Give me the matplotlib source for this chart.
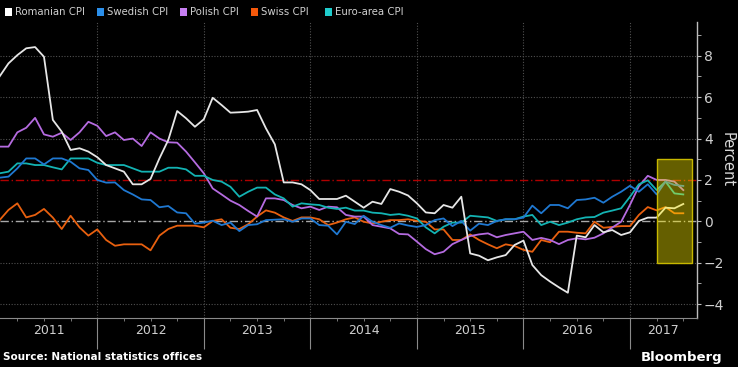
import numpy as np
import matplotlib
matplotlib.use("Agg")
import matplotlib.pyplot as plt
from matplotlib.patches import Rectangle

# monthly CPI y/y, Jan 2011 .. Jun 2017
romanian = [7.0, 7.63, 8.03, 8.36, 8.42, 7.95, 4.9, 4.33, 3.45, 3.53, 3.37, 3.1,
            2.72, 2.56, 2.4, 1.79, 1.79, 2.05, 3.04, 3.93, 5.33, 4.98, 4.57, 4.93,
            5.97, 5.62, 5.25, 5.27, 5.3, 5.38, 4.49, 3.72, 1.88, 1.88, 1.79, 1.51,
            1.08, 1.08, 1.08, 1.24, 0.95, 0.66, 0.95, 0.84, 1.56, 1.43, 1.25, 0.87,
            0.43, 0.39, 0.79, 0.66, 1.19, -1.55, -1.66, -1.88, -1.74, -1.63, -1.14, -0.93,
            -2.11, -2.6, -2.91, -3.19, -3.45, -0.69, -0.77, -0.18, -0.53, -0.42, -0.66, -0.53,
            0.02, 0.18, 0.18, 0.66, 0.63, 0.84]
swedish = [2.11, 2.16, 2.56, 3.04, 3.04, 2.75, 3.04, 3.04, 2.88, 2.56, 2.48, 2.0,
           1.87, 1.88, 1.51, 1.3, 1.06, 1.03, 0.68, 0.74, 0.43, 0.39, -0.11, -0.06,
           0.03, -0.18, -0.06, -0.47, -0.18, -0.14, 0.06, 0.08, 0.1, -0.02, 0.14, 0.14,
           -0.18, -0.21, -0.63, -0.02, -0.13, 0.27, -0.02, -0.18, -0.31, -0.1, -0.2, -0.27,
           -0.18, 0.06, 0.14, -0.23, 0.02, -0.45, -0.11, -0.18, 0.02, 0.1, 0.1, 0.18,
           0.76, 0.39, 0.79, 0.79, 0.63, 1.03, 1.06, 1.14, 0.9, 1.19, 1.43, 1.72,
           1.43, 1.79, 1.3, 1.92, 1.76, 1.71]
polish = [3.61, 3.61, 4.3, 4.52, 5.0, 4.2, 4.09, 4.28, 3.93, 4.3, 4.81, 4.62,
          4.12, 4.3, 3.93, 4.0, 3.64, 4.3, 4.0, 3.82, 3.8, 3.37, 2.85, 2.32,
          1.59, 1.3, 1.0, 0.79, 0.5, 0.23, 1.11, 1.11, 1.03, 0.79, 0.63, 0.71,
          0.55, 0.71, 0.68, 0.31, 0.23, 0.23, -0.18, -0.26, -0.34, -0.61, -0.63, -0.98,
          -1.34, -1.59, -1.47, -1.1, -0.9, -0.71, -0.63, -0.58, -0.77, -0.66, -0.58, -0.5,
          -0.9, -0.8, -0.9, -1.1, -0.9, -0.82, -0.87, -0.79, -0.58, -0.3, -0.02, 0.8,
          1.7, 2.2, 2.0, 2.0, 1.92, 1.51]
swiss = [0.06, 0.55, 0.87, 0.19, 0.31, 0.6, 0.18, -0.37, 0.27, -0.29, -0.69, -0.39,
         -0.9, -1.18, -1.11, -1.11, -1.11, -1.4, -0.69, -0.37, -0.21, -0.21, -0.21, -0.29,
         0.02, 0.1, -0.31, -0.37, -0.14, 0.23, 0.53, 0.42, 0.19, 0.02, 0.19, 0.19,
         0.1, -0.18, -0.06, 0.1, 0.19, -0.02, -0.1, -0.02, 0.06, 0.06, 0.1, 0.02,
         -0.02, -0.39, -0.39, -0.9, -0.9, -0.63, -0.9, -1.11, -1.3, -1.11, -1.19, -1.38,
         -1.47, -0.9, -1.01, -0.5, -0.5, -0.55, -0.58, -0.02, -0.31, -0.27, -0.23, -0.23,
         0.31, 0.69, 0.53, 0.69, 0.39, 0.39]
euro = [2.32, 2.4, 2.8, 2.8, 2.72, 2.72, 2.61, 2.51, 3.04, 3.04, 3.04, 2.83,
        2.72, 2.72, 2.72, 2.56, 2.4, 2.4, 2.4, 2.59, 2.59, 2.51, 2.2, 2.2,
        2.0, 1.92, 1.67, 1.19, 1.43, 1.63, 1.63, 1.3, 1.11, 0.71, 0.87, 0.82,
        0.79, 0.66, 0.6, 0.66, 0.52, 0.52, 0.42, 0.39, 0.31, 0.35, 0.27, 0.14,
        -0.29, -0.58, -0.26, -0.06, -0.06, 0.27, 0.23, 0.19, 0.02, 0.1, 0.1, 0.23,
        0.31, -0.18, -0.02, -0.18, -0.06, 0.1, 0.19, 0.21, 0.42, 0.52, 0.63, 1.19,
        1.79, 1.98, 1.51, 1.92, 1.35, 1.3]

years = ['2011', '2012', '2013', '2014', '2015', '2016', '2017']
names = ['Romanian CPI', 'Swedish CPI', 'Polish CPI', 'Swiss CPI', 'Euro-area CPI']
line_colors = ['#e6e6e6', '#1f78d1', '#b56be0', '#e8600f', '#13b3b3']
key_colors = ['#ffffff', '#2b8fea', '#c77ff2', '#f5580a', '#1fcccc']

# x in months since Jan 2011, points at month end
x = np.arange(1, len(romanian) + 1)

fig = plt.figure(figsize=(7.38, 3.67), dpi=100, facecolor='black')
ax = fig.add_axes([0, 0.1335, 0.9444, 0.8065], facecolor='black')
ax.set_xlim(1.047, 79.54)
ax.set_ylim(-4.67, 9.63)

# grid
for v in [8, 6, 4, -2, -4]:
    ax.axhline(v, color='#505050', lw=0.8, ls=(0, (1, 1.5)), zorder=1)
for yr in range(12, 80, 12):
    ax.axvline(yr, color='#505050', lw=0.8, ls=(0, (1, 1.5)), zorder=1)
ax.axhline(0, color='#a8a8a8', lw=1.0, ls=(0, (6, 2, 1, 2)), zorder=1)
ax.axhline(2, color='#b00000', lw=1.0, ls=(0, (6, 2, 1, 2)), zorder=1)

order = [3, 2, 4, 1, 0]
all_series = [romanian, swedish, polish, swiss, euro]
for i in order:
    ax.plot(x, all_series[i], color=line_colors[i], lw=1.3, zorder=3)

# highlight box
ax.add_patch(Rectangle((75.03, -2), 3.95, 5, facecolor='#fff000', alpha=0.4,
                       edgecolor='none', zorder=5))
ax.add_patch(Rectangle((75.03, -2), 3.95, 5, facecolor='none',
                       edgecolor='#c8b800', lw=1.0, zorder=6))

# axes styling
for s in ['top', 'left']:
    ax.spines[s].set_visible(False)
ax.spines['right'].set_color('#bdbdbd')
ax.spines['bottom'].set_color('#8a8a8a')
ax.spines['right'].set_linewidth(1.0)
ax.yaxis.tick_right()
ax.set_yticks([-4, -2, 0, 2, 4, 6, 8])
ax.set_yticks(range(-4, 10), minor=True)
ax.tick_params(axis='y', which='both', colors='#bdbdbd', labelcolor='#d0d0d0',
               labelsize=10, length=3, direction='out', pad=2)
ax.set_xticks(range(12, 80, 12))
ax.set_xticks(range(3, 80, 3), minor=True)
ax.tick_params(axis='x', which='major', length=22, color='#8a8a8a', labelbottom=False)
ax.tick_params(axis='x', which='minor', length=2.5, color='#8a8a8a')
ax.set_xticklabels([])

# year labels centred on the visible part of each year
lo, hi = ax.get_xlim()
for i, yr in enumerate(years):
    a = max(lo, i * 12)
    b = min(hi, i * 12 + 12)
    ax.text((a + b) / 2, -0.043, yr, transform=ax.get_xaxis_transform(),
            ha='center', va='center', color='#cfcfcf', fontsize=9)

fig.text(0.985, 0.565, 'Percent', rotation=270, ha='center', va='center',
         color='#d8d8d8', fontsize=10.5)

# legend
key_x = [5, 97, 180, 251, 325]
for kx, name, c in zip(key_x, names, key_colors):
    fig.add_artist(Rectangle((kx / 738, 1 - 16 / 367), 7 / 738, 8 / 367,
                             transform=fig.transFigure, facecolor=c, edgecolor='none'))
    fig.text((kx + 10) / 738, 1 - 12 / 367, name, ha='left', va='center',
             color='#d0d0d0', fontsize=7.3)

fig.text(3 / 738, 1 - 357 / 367, 'Source: National statistics offices', ha='left',
         va='center', color='white', fontsize=7.5, fontweight='bold')
fig.text(722 / 738, 1 - 357 / 367, 'Bloomberg', ha='right', va='center',
         color='white', fontsize=9.5, fontweight='bold')

fig.savefig('out.png', dpi=100, facecolor='black')
